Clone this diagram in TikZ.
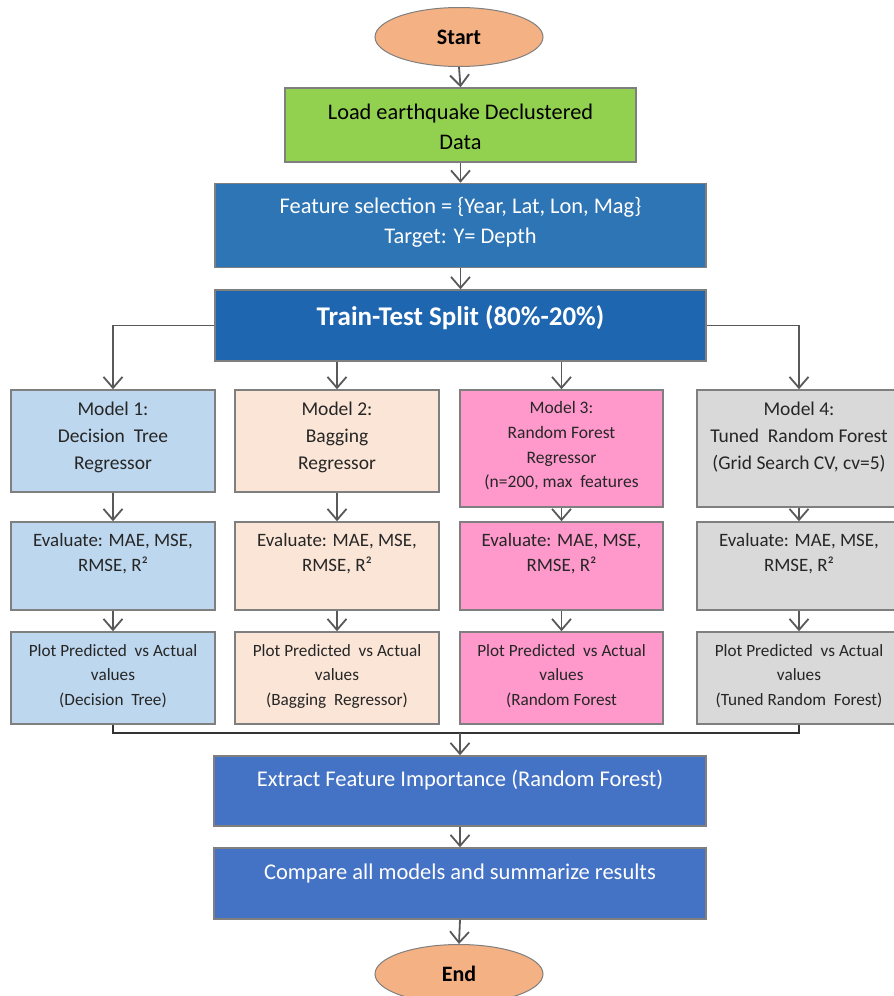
\documentclass[tikz,border=0pt]{standalone}
\usepackage{fontspec}
\setmainfont{Carlito}
\usetikzlibrary{arrows.meta,shapes.geometric}
\definecolor{oval}{HTML}{F4B183}
\definecolor{loadc}{HTML}{92D050}
\definecolor{featc}{HTML}{2E75B6}
\definecolor{splitc}{HTML}{1F66B1}
\definecolor{extc}{HTML}{4472C4}
\definecolor{m1c}{HTML}{BDD7EE}
\definecolor{m2c}{HTML}{FBE5D6}
\definecolor{m3c}{HTML}{FF99CC}
\definecolor{m4c}{HTML}{D9D9D9}
\definecolor{edgec}{HTML}{7F7F7F}
\definecolor{arrc}{HTML}{595959}
\definecolor{txtc}{HTML}{262626}
\tikzset{
  box/.style={draw=edgec, line width=1.5pt, rectangle, inner sep=0pt},
  ovalbox/.style={draw=edgec, line width=1pt, ellipse, fill=oval, inner sep=0pt, minimum width=168pt, minimum height=59pt, font=\fontsize{22}{26}\selectfont\bfseries, text=black},
  txt/.style={align=center, inner sep=0pt, text=txtc},
  wtxt/.style={align=center, inner sep=0pt, text=white},
  arr/.style={draw=arrc, line width=1.8pt, -{Straight Barb[length=11pt,width=19pt]}},
  merge/.style={draw=black!80, line width=2.8pt}
}
\begin{document}
\begin{tikzpicture}[x=1pt,y=-1pt]
\useasboundingbox (0,0) rectangle (894,996);
% start
\node[ovalbox] (start) at (459,37) {Start};
% load
\node[box, fill=loadc, minimum width=351pt, minimum height=74pt] (load) at (460.5,125) {};
\node[txt, text=black, font=\fontsize{22.3}{30}\selectfont] (loadt) at (460.5,127) {Load earthquake Declustered\\Data};
% feature
\node[box, fill=featc, minimum width=491pt, minimum height=84pt] (feat) at (460.5,225.5) {};
\node[wtxt, font=\fontsize{22.4}{30}\selectfont] (featt) at (460.5,222) {Feature selection = \{Year, Lat, Lon, Mag\}\\Target: Y= Depth};
% split
\node[box, fill=splitc, minimum width=491pt, minimum height=71pt] (split) at (460.5,325.5) {};
\node[wtxt, font=\fontsize{27}{30}\selectfont\bfseries] (splitt) at (460.5,318) {Train-Test Split (80\%-20\%)};
% models
\node[box, fill=m1c, minimum width=204pt, minimum height=102pt] (m1) at (113,441) {};
\node[txt, font=\fontsize{19.5}{27}\selectfont] (m1t) at (113,437) {Model 1:\\Decision\ \ Tree\\Regressor};
\node[box, fill=m2c, minimum width=204pt, minimum height=102pt] (m2) at (337,441) {};
\node[txt, font=\fontsize{19.5}{27}\selectfont] (m2t) at (337,437) {Model 2:\\Bagging\\Regressor};
\node[box, fill=m3c, minimum width=203pt, minimum height=117pt] (m3) at (561.5,448.5) {};
\node[txt, font=\fontsize{17.5}{24.6}\selectfont] (m3t) at (561.5,446) {Model 3:\\Random Forest\\Regressor\\(n=200, max\ \ features};
\node[box, fill=m4c, minimum width=204pt, minimum height=117pt] (m4) at (799,448.5) {};
\node[txt, font=\fontsize{19.5}{27}\selectfont] (m4t) at (799,437) {Model 4:\\Tuned\ \ Random Forest\\(Grid Search CV, cv=5)};
% evaluate
\node[box, fill=m1c, minimum width=204pt, minimum height=88pt] (e1) at (113,566) {};
\node[txt, font=\fontsize{18.9}{25}\selectfont] (e1t) at (113,554) {Evaluate: MAE, MSE,\\RMSE, R²};
\node[box, fill=m2c, minimum width=204pt, minimum height=88pt] (e2) at (337,566) {};
\node[txt, font=\fontsize{18.9}{25}\selectfont] (e2t) at (337,554) {Evaluate: MAE, MSE,\\RMSE, R²};
\node[box, fill=m3c, minimum width=203pt, minimum height=88pt] (e3) at (561.5,566) {};
\node[txt, font=\fontsize{18.9}{25}\selectfont] (e3t) at (561.5,554) {Evaluate: MAE, MSE,\\RMSE, R²};
\node[box, fill=m4c, minimum width=204pt, minimum height=88pt] (e4) at (799,566) {};
\node[txt, font=\fontsize{18.9}{25}\selectfont] (e4t) at (799,554) {Evaluate: MAE, MSE,\\RMSE, R²};
% plot
\node[box, fill=m1c, minimum width=204pt, minimum height=92pt] (p1) at (113,678) {};
\node[txt, font=\fontsize{17.2}{24.5}\selectfont] (p1t) at (113,676) {Plot Predicted\ \ vs Actual\\values\\(Decision\ \ Tree)};
\node[box, fill=m2c, minimum width=204pt, minimum height=92pt] (p2) at (337,678) {};
\node[txt, font=\fontsize{17.2}{24.5}\selectfont] (p2t) at (337,676) {Plot Predicted\ \ vs Actual\\values\\(Bagging\ \ Regressor)};
\node[box, fill=m3c, minimum width=203pt, minimum height=92pt] (p3) at (561.5,678) {};
\node[txt, font=\fontsize{17.2}{24.5}\selectfont] (p3t) at (561.5,676) {Plot Predicted\ \ vs Actual\\values\\(Random Forest};
\node[box, fill=m4c, minimum width=204pt, minimum height=92pt] (p4) at (799,678) {};
\node[txt, font=\fontsize{17.2}{24.5}\selectfont] (p4t) at (799,676) {Plot Predicted\ \ vs Actual\\values\\(Tuned Random\ \ Forest)};
% extract, compare
\node[box, fill=extc, minimum width=492pt, minimum height=70pt] (ext) at (460,791) {};
\node[wtxt, font=\fontsize{22.5}{26}\selectfont] (extt) at (460,780) {Extract Feature Importance (Random Forest)};
\node[box, fill=extc, minimum width=492pt, minimum height=71pt] (cmp) at (460,883.5) {};
\node[wtxt, font=\fontsize{22.5}{26}\selectfont] (cmpt) at (460,873) {Compare all models and summarize results};
\node[ovalbox] (end) at (459,974) {End};
% connectors
\draw[arr] (start.south) -- (load.north);
\draw[arr] (load.south) -- (feat.north);
\draw[arr] (feat.south) -- (split.north);
\draw[arr] (split.west) -| (m1.north);
\draw[arr] (split.east) -| (m4.north);
\draw[arr] (split.south -| m2.north) -- (m2.north);
\draw[arr] (split.south -| m3.north) -- (m3.north);
\foreach \i in {1,2,3,4}{
  \draw[arr] (m\i.south) -- (e\i.north);
  \draw[arr] (e\i.south) -- (p\i.north);
}
\coordinate (mj) at (460,733);
\draw[merge] (p1.south) |- (mj) -| (p4.south);
\draw[arr] (mj) -- (ext.north);
\draw[arr] (ext.south) -- (cmp.north);
\draw[arr] (cmp.south) -- (end.north);
\end{tikzpicture}
\end{document}
